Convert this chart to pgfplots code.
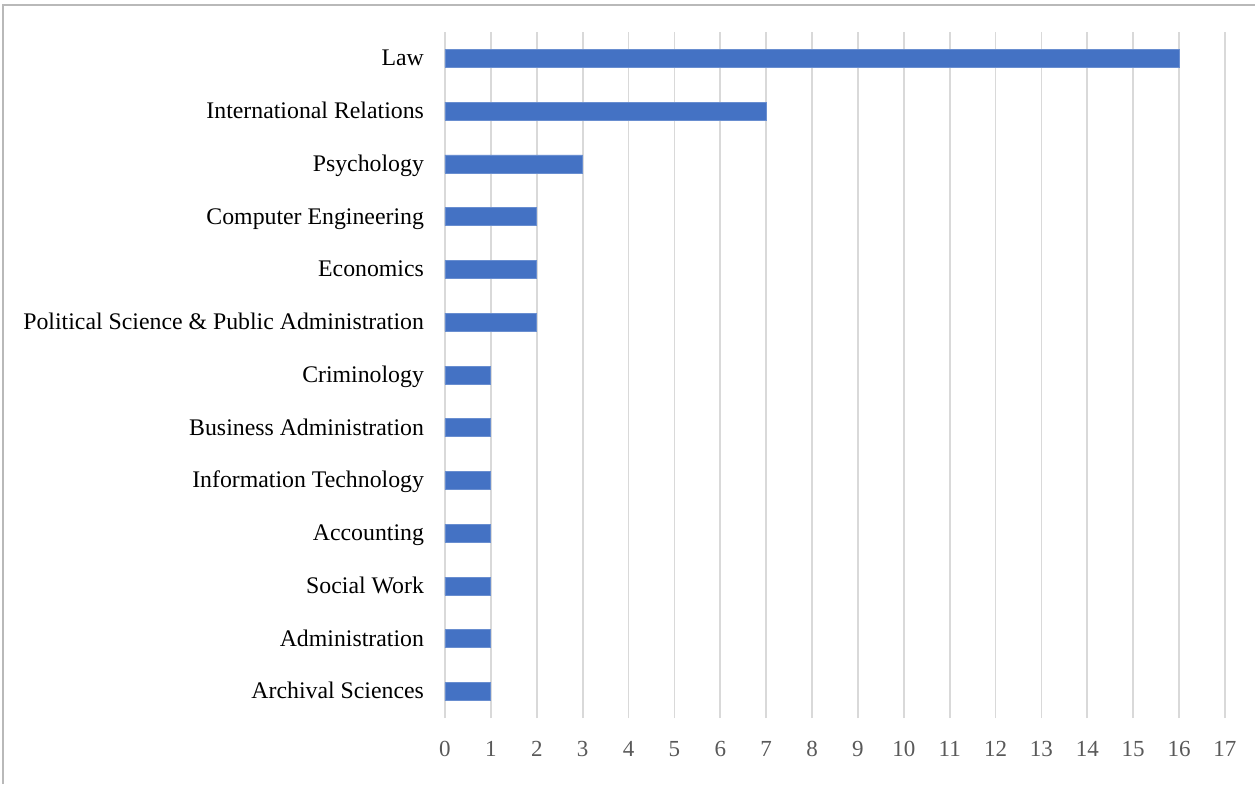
\documentclass[border=0pt]{standalone}
\usepackage{pgfplots}
\pgfplotsset{compat=1.18}
\usepackage{fontspec}
\setmainfont{Liberation Serif}
\definecolor{barblue}{HTML}{4472C4}
\definecolor{gridgray}{HTML}{D9D9D9}
\definecolor{ticktext}{HTML}{595959}
\begin{document}
\begin{tikzpicture}
  \useasboundingbox (-222.5pt,-33pt) rectangle (405pt,359pt);
  \draw[gray!55, line width=1.2pt] (-221pt,-33pt) -- (-221pt,356.5pt) -- (405pt,356.5pt);
  \begin{axis}[
      scale only axis,
      width=390pt, height=343pt,
      xbar,
      bar width=9pt,
      xmin=0, xmax=17,
      ymin=-0.5, ymax=12.5,
      axis line style={draw=none},
      major tick length=0pt,
      xtick={0,1,...,17},
      ytick=data,
      yticklabels={Archival Sciences, Administration, Social Work, Accounting, Information Technology, Business Administration, Criminology, Political Science \& Public Administration, Economics, Computer Engineering, Psychology, International Relations, Law},
      xmajorgrids,
      grid style={gridgray, line width=0.9pt},
      /pgf/number format/assume math mode=true,
      xticklabel style={font=\fontsize{11.5pt}{13pt}\selectfont, text=ticktext,
        yshift=-9.5pt, text height=1.4ex, text depth=0pt},
      yticklabel style={font=\fontsize{11.9pt}{14pt}\selectfont, text=black,
        xshift=-7pt, text height=1.8ex, text depth=0.2ex},
    ]
    \addplot[fill=barblue, draw=barblue!80!white] coordinates {
      (1,0) (1,1) (1,2) (1,3) (1,4) (1,5) (1,6)
      (2,7) (2,8) (2,9) (3,10) (7,11) (16,12)
    };
  \end{axis}
\end{tikzpicture}
\end{document}
